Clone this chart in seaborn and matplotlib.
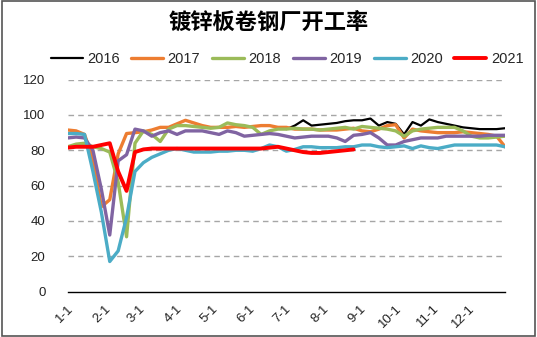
import numpy as np
import pandas as pd
import matplotlib
matplotlib.use("Agg")
import matplotlib.pyplot as plt
import seaborn as sns
from matplotlib.patches import Rectangle

# ---- data (weekly, week 0 = Jan 1) ----
years = ["2016", "2017", "2018", "2019", "2020", "2021"]
month_labels = ["1-1", "2-1", "3-1", "4-1", "5-1", "6-1", "7-1", "8-1", "9-1", "10-1", "11-1", "12-1"]
month_start_days = [0, 31, 59, 90, 120, 151, 181, 212, 243, 273, 304, 334]
weeks = list(range(53))

v2016 = [np.nan] * 26 + [92, 94, 97, 94, 94.5, 95, 95.5, 96.5, 97, 97, 98, 94, 96, 95, 89,
                         96, 94, 97.5, 96, 95, 94, 93, 92.5, 92, 92, 92, 92.5]
v2017 = [91.5, 91, 89, 75, 48, 52, 78, 89.5, 90, 90.5, 91.5, 93, 93, 95, 97, 95.5, 94, 93,
         93, 93, 93.5, 93, 93.5, 94, 94, 93, 93, 92, 92, 92, 91.5, 91.5, 91.5, 92, 92.5, 91,
         90.5, 92, 94, 94.5, 87, 92, 91, 90.5, 90, 90, 90, 90.5, 90, 89.5, 89, 88, 82]
v2018 = [82, 83.5, 84, 82, 81, 79, 62, 31, 84, 91, 89, 85, 92, 94, 94, 93.5, 93, 92.5, 93,
         95.5, 94.5, 94, 93, 89, 91, 92, 92, 92.5, 92, 92, 91.5, 92, 92.5, 93, 92, 93.5, 93,
         92.5, 92, 91, 88, 91, 92, 92.5, 93, 93, 93, 91, 88, 87, 87, 87.5, 88]
v2019 = [87, 87.5, 87, 80, 58, 32, 74, 77.5, 92, 91, 88, 90, 91, 89, 91, 91, 91, 90, 89,
         91, 90, 88, 88.5, 89, 89.5, 89, 88, 87, 87.5, 88, 88, 88, 87, 85, 88.5, 89, 90,
         87, 83, 83, 85, 86, 87, 87, 87, 88, 88, 88, 88, 88, 88.5, 88.5, 88.5]
v2020 = [89.5, 89.5, 89, 68, 45, 17, 23, 42, 68, 73, 76, 78, 80, 81, 80, 79, 79, 79, 79.5,
         79.5, 80, 80, 79.5, 81, 83, 82, 79.5, 80.5, 82, 82, 81.5, 81.5, 81.5, 82, 82, 83,
         83, 82, 81.5, 82, 82.5, 81, 82.5, 81.5, 81, 82, 83, 83, 83, 83, 83, 83, 82]
v2021 = [81.5, 82, 82, 82, 83, 84, 68, 57, 79, 80.5, 81, 81, 81, 81, 81, 81, 81, 81, 81,
         81, 81, 81, 81, 81, 81.5, 82, 81, 80, 79, 78.5, 78.5, 79, 79.5, 80, 80.5] + [np.nan] * 18

series = [v2016, v2017, v2018, v2019, v2020, v2021]
colors = ["#000000", "#ED7D31", "#9BBB59", "#8064A2", "#4BACC6", "#FF0000"]
widths = [1.6, 2.4, 2.4, 2.4, 2.4, 2.8]

rows = []
for y, vals in zip(years, series):
    for w, v in zip(weeks, vals):
        rows.append({"week": w, "value": v, "year": y})
df = pd.DataFrame(rows).dropna()

sns.set_theme(style="white")
plt.rcParams["font.family"] = ["Liberation Sans", "DejaVu Sans"]

fig = plt.figure(figsize=(5.37, 3.37), dpi=100)
ax = fig.add_axes([67.7 / 537, 1 - 291.5 / 337, (505 - 67.7) / 537, (291.5 - 79.7) / 337])

for y, c, lw in zip(years, colors, widths):
    sub = df[df["year"] == y]
    sns.lineplot(data=sub, x="week", y="value", color=c, linewidth=lw, ax=ax,
                 label=y, estimator=None, sort=True)

ax.set_xlim(0, 52)
ax.set_ylim(0, 120)
ax.set_yticks(range(0, 121, 20))
ax.set_yticklabels([str(v) for v in range(0, 121, 20)], fontsize=9.5, color="#222222")
ax.set_xticks([d / 7 for d in month_start_days])
ax.set_xticklabels(month_labels, rotation=45, ha="right", rotation_mode="anchor",
                   fontsize=9.5, color="#222222")
ax.tick_params(axis="x", direction="out", length=4, width=1, color="#000000", pad=4)
ax.tick_params(axis="y", length=0, pad=16)
ax.set_xlabel("")
ax.set_ylabel("")
for s in ["top", "right", "left"]:
    ax.spines[s].set_visible(False)
ax.spines["bottom"].set_color("#000000")
ax.spines["bottom"].set_linewidth(1)
for gy in range(20, 121, 20):
    ax.axhline(gy, color="#A6A6A6", linewidth=1, linestyle=(0, (4, 3)), zorder=0)

handles, labels = ax.get_legend_handles_labels()
if ax.get_legend() is not None:
    ax.get_legend().remove()
leg = fig.legend(handles, labels, loc="center", bbox_to_anchor=(287 / 537, 1 - 59 / 337),
                 ncol=6, frameon=False, fontsize=10.5, handlelength=2.2, handletextpad=0.3,
                 columnspacing=0.8, borderaxespad=0, borderpad=0)

fig.text(0.5, 1 - 22 / 337, "镀锌板卷钢厂开工率", ha="center", va="center", fontsize=16,
         fontweight="bold", family=["Noto Sans CJK SC", "DejaVu Sans"], color="#000000")

fig.patches.append(Rectangle((0.003, 0.004), 0.994, 0.992, transform=fig.transFigure,
                             fill=False, edgecolor="#555555", linewidth=1.2))

fig.savefig("out.png", dpi=100)
